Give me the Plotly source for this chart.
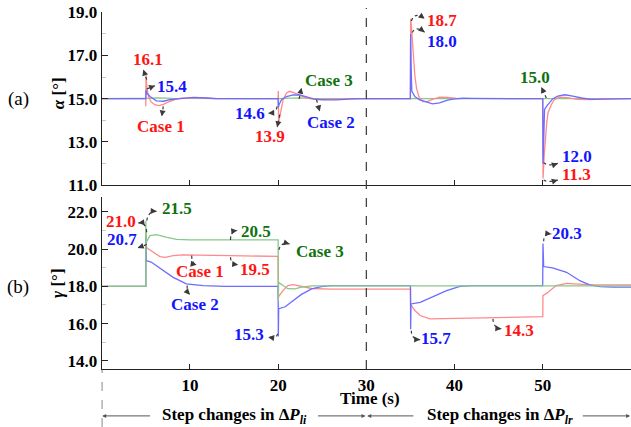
import math
import plotly.graph_objects as go

# ---------------- data: rotor angles after the step changes ----------------
# alpha (top panel)
t_alpha_case1 = [0, 4.99, 5.0, 5.02, 5.1, 5.3, 5.6, 6.0, 6.5, 7.0, 7.5, 8.0, 8.5, 9.0, 10, 11, 12, 13, 19.99,
                 20.0, 20.02, 20.05, 20.27, 20.57, 20.95, 21.3, 21.9, 22.5, 23.2, 24.4, 26, 28, 34.99,
                 35.0, 35.02, 35.1, 35.2, 35.3, 35.5, 35.7, 36.0, 36.4, 36.9, 37.5, 38.3, 39.2, 40.2, 49.99,
                 50.0, 50.03, 50.15, 50.3, 50.45, 50.6, 51.0, 51.3, 51.9, 52.8, 53.9, 55.5, 57, 60]
alpha_case1 = [15, 15, 14.65, 16.1, 15.6, 15.1, 14.85, 14.72, 14.68, 14.74, 14.84, 14.93, 14.99, 15.02, 15.04, 15.04, 15.02, 15.0, 15.0,
               15.0, 15.35, 13.9, 14.34, 14.95, 15.26, 15.34, 15.26, 15.14, 15.03, 14.96, 14.96, 14.99, 15.0,
               15.0, 18.7, 18.4, 17.8, 17.0, 16.05, 15.45, 15.05, 14.86, 14.86, 14.97, 15.07, 15.06, 15.01, 15.0,
               15.0, 11.3, 12.3, 13.3, 13.9, 14.35, 14.75, 14.95, 15.07, 15.05, 14.97, 14.96, 15.0, 15.0]

t_alpha_case2 = [0, 4.99, 5.0, 5.02, 5.1, 5.47, 6.2, 7.0, 7.7, 8.9, 10.4, 11.9, 13, 19.99,
                 20.0, 20.02, 20.1, 20.38, 20.95, 21.7, 22.46, 23.2, 24.0, 25.1, 26.6, 28, 29, 34.99,
                 35.0, 35.02, 35.08, 35.15, 35.5, 36.0, 36.8, 37.5, 38.3, 39.2, 40, 41, 42, 49.99,
                 50.0, 50.03, 50.1, 50.2, 50.5, 50.8, 51.15, 51.7, 52.5, 53.4, 54.4, 55.5, 57, 60]
alpha_case2 = [15, 15, 15.0, 15.4, 15.26, 15.1, 14.9, 14.88, 14.95, 15.0, 15.06, 15.03, 15.0, 15.0,
               15.0, 14.6, 14.72, 14.95, 15.1, 15.17, 15.17, 15.1, 14.99, 14.94, 14.94, 14.98, 15.0, 15.0,
               15.0, 18.0, 16.5, 15.35, 15.1, 14.95, 14.84, 14.76, 14.8, 14.93, 14.99, 15.02, 15.01, 15.0,
               15.0, 12.0, 13.5, 14.5, 14.69, 14.84, 15.0, 15.12, 15.18, 15.12, 15.03, 14.97, 14.99, 15.0]

t_alpha_case3 = [0, 5, 5.5, 6.5, 8, 20, 21, 22.5, 24, 35, 36.5, 38, 50, 51.5, 53, 60]
alpha_case3 = [15, 15, 15.02, 15.04, 15.01, 15.0, 15.02, 15.04, 15.0, 15.0, 15.01, 15.0, 15.0, 15.03, 15.0, 15.0]

# gamma (bottom panel)
t_gamma_case1 = [0, 4.99, 5.0, 5.05, 5.3, 5.85, 6.6, 7.2, 8.1, 9.2, 11, 14.5, 19.99,
                 20.0, 20.02, 20.05, 20.55, 21.1, 21.7, 22.65, 23.8, 26, 34.99,
                 35.0, 35.02, 35.1, 35.5, 36.1, 37.2, 39.5, 44.4, 49.99,
                 50.0, 50.02, 50.6, 51.5, 52.7, 55, 60]
gamma_case1 = [18, 18, 21.0, 20.09, 20.0, 19.82, 19.59, 19.55, 19.64, 19.68, 19.68, 19.65, 19.6,
               19.6, 17.3, 17.45, 17.77, 18.04, 18.09, 17.98, 17.88, 17.85, 17.85,
               17.85, 16.9, 16.96, 16.7, 16.43, 16.25, 16.27, 16.3, 16.37,
               16.37, 17.5, 17.68, 18.04, 18.16, 18.09, 18.07]

t_gamma_case2 = [0, 4.99, 5.0, 5.05, 5.6, 7.0, 8.1, 9.6, 11.5, 14, 19.99,
                 20.0, 20.02, 20.06, 20.8, 21.5, 22.6, 23.8, 24.9, 26, 34.99,
                 35.0, 35.02, 35.06, 36.1, 37.6, 39.1, 40.6, 42, 49.99,
                 50.0, 50.02, 50.1, 51.1, 52.7, 54.2, 55.3, 56.5, 58, 60]
gamma_case2 = [18, 18, 20.7, 19.38, 19.3, 18.84, 18.48, 18.13, 18.04, 18.0, 18.0,
               18.0, 15.3, 16.8, 16.9, 17.14, 17.55, 17.86, 17.98, 18.03, 18.03,
               18.03, 15.7, 17.05, 17.14, 17.45, 17.77, 18.0, 18.03, 18.03,
               18.03, 20.3, 19.06, 18.99, 18.75, 18.3, 18.07, 17.98, 17.95, 17.95]

t_gamma_case3 = [0, 4.99, 5.0, 5.05, 5.47, 6.2, 7.4, 8.5, 10, 19.99, 20.0, 20.02, 20.05, 20.55, 21.1, 21.9, 22.65, 23.8, 60]
gamma_case3 = [18, 18, 21.5, 20.36, 20.72, 20.77, 20.63, 20.52, 20.49, 20.49, 20.49, 17.2, 18.21, 18.04, 17.87, 17.86, 17.95, 18.02, 18.02]

alpha_ticks = [11, 13, 15, 17, 19]
gamma_ticks = [14, 16, 18, 20, 22]
time_ticks = [10, 20, 30, 40, 50]

# ---------------- styling ----------------
SERIF = "Liberation Serif"
LINE = {"red": "#ff8a8a", "blue": "#6c6cff", "green": "#88c888"}
TEXT = {"red": "#ff1414", "blue": "#1414ff", "green": "#0f720f"}
ARROW = "#3a3a3a"
PX_PER_S = 8.83
PX_PER_UNIT = {"y": 21.5, "y2": 18.63}

fig = go.Figure()


def add_line(t, v, color, axis):
    fig.add_trace(go.Scatter(x=t, y=v, mode="lines", line=dict(color=LINE[color], width=1.3),
                             xaxis="x" if axis == "y" else "x2", yaxis=axis,
                             showlegend=False, hoverinfo="skip"))


add_line(t_alpha_case3, alpha_case3, "green", "y")
add_line(t_alpha_case1, alpha_case1, "red", "y")
add_line(t_alpha_case2, alpha_case2, "blue", "y")
add_line(t_gamma_case1, gamma_case1, "red", "y2")
add_line(t_gamma_case2, gamma_case2, "blue", "y2")
add_line(t_gamma_case3, gamma_case3, "green", "y2")

shapes = []
annotations = []


def label(text, x, y, color, axis):
    annotations.append(dict(text=text, x=x, y=y, xref="x" if axis == "y" else "x2", yref=axis,
                            showarrow=False, xanchor="center", yanchor="middle",
                            font=dict(family=SERIF, size=17, color=TEXT[color], weight="bold")))


def pointer(tail, tip, axis, ctrl=None):
    xr = "x" if axis == "y" else "x2"
    if ctrl is None:
        ctrl = ((tail[0] + tip[0]) / 2, (tail[1] + tip[1]) / 2)
    shapes.append(dict(type="path", xref=xr, yref=axis,
                       path=f"M {tail[0]},{tail[1]} Q {ctrl[0]},{ctrl[1]} {tip[0]},{tip[1]}",
                       line=dict(color=ARROW, width=1.2, dash="dot")))
    dx = (tip[0] - ctrl[0]) * PX_PER_S
    dy = -(tip[1] - ctrl[1]) * PX_PER_UNIT[axis]
    n = math.hypot(dx, dy) or 1.0
    annotations.append(dict(text="", x=tip[0], y=tip[1], xref=xr, yref=axis,
                            ax=-dx / n * 6, ay=-dy / n * 6, showarrow=True,
                            arrowhead=2, arrowsize=1, arrowwidth=1.2, arrowcolor=ARROW, standoff=0))


# top panel labels
label("16.1", 5.24, 16.81, "red", "y")
pointer((5.1, 15.88), (4.71, 16.35), "y")
label("15.4", 7.96, 15.54, "blue", "y")
pointer((5.1, 15.45), (6.04, 15.6), "y")
label("Case 1", 6.72, 13.71, "red", "y")
pointer((6.98, 14.64), (6.8, 14.18), "y")
label("14.6", 16.8, 14.29, "blue", "y")
pointer((19.89, 14.64), (18.87, 14.33), "y", (19.8, 14.35))
label("13.9", 19.06, 13.25, "red", "y")
pointer((20.19, 14.26), (19.89, 13.68), "y")
label("Case 3", 25.8, 15.84, "green", "y")
pointer((22.38, 14.99), (22.65, 15.5), "y")
label("Case 2", 25.97, 13.9, "blue", "y")
pointer((24.35, 14.95), (24.72, 14.41), "y")
label("18.7", 38.54, 18.64, "red", "y")
pointer((35.1, 18.6), (36.6, 18.7), "y", (35.5, 19.05))
label("18.0", 38.54, 17.67, "blue", "y")
pointer((35.2, 18.06), (36.6, 18.08), "y", (35.6, 18.4))
label("15.0", 49.15, 15.99, "green", "y")
pointer((50.4, 15.03), (49.83, 15.54), "y")
label("12.0", 53.83, 12.32, "blue", "y")
pointer((50.1, 12.04), (51.7, 12.0), "y", (50.6, 11.85))
label("11.3", 53.83, 11.47, "red", "y")
pointer((50.1, 11.23), (51.7, 11.23), "y", (50.6, 11.1))

# bottom panel labels
label("21.0", 2.19, 21.47, "red", "y2")
pointer((5.1, 20.9), (4.15, 21.4), "y2", (5.0, 21.45))
label("20.7", 2.33, 20.49, "blue", "y2")
pointer((5.1, 20.24), (4.08, 20.06), "y2")
label("21.5", 8.49, 22.15, "green", "y2")
pointer((5.1, 21.52), (6.23, 22.02), "y2", (5.3, 22.05))
label("20.5", 17.47, 20.95, "green", "y2")
pointer((14.6, 20.49), (15.36, 20.99), "y2", (14.6, 20.95))
label("19.5", 17.36, 18.9, "red", "y2")
pointer((14.6, 19.56), (15.47, 19.16), "y2", (14.6, 19.2))
label("Case 1", 11.13, 18.79, "red", "y2")
pointer((10.2, 19.65), (10.76, 19.16), "y2", (10.2, 19.2))
label("Case 2", 10.62, 17.02, "blue", "y2")
pointer((9.7, 18.04), (10.0, 17.55), "y2", (9.6, 17.75))
label("Case 3", 24.72, 19.88, "green", "y2")
pointer((20.08, 19.95), (21.3, 20.27), "y2", (20.3, 20.4))
label("15.3", 16.68, 15.41, "blue", "y2")
pointer((19.93, 15.45), (18.87, 15.27), "y2", (19.9, 15.2))
label("15.7", 37.94, 15.18, "blue", "y2")
pointer((35.1, 15.62), (36.1, 15.14), "y2", (35.1, 15.15))
label("14.3", 47.29, 15.62, "red", "y2")
pointer((44.35, 16.25), (45.3, 15.72), "y2", (44.4, 15.75))
label("20.3", 52.77, 20.81, "blue", "y2")
pointer((50.1, 20.41), (50.96, 20.81), "y2", (50.1, 20.85))

# dashed separators
shapes.append(dict(type="line", xref="x2", yref="paper", x0=30, x1=30, y0=0.136, y1=0.981,
                   line=dict(color="#444", width=1.3, dash="dash")))
shapes.append(dict(type="line", xref="x2", yref="paper", x0=0, x1=0, y0=0.0, y1=0.134,
                   line=dict(color="#444", width=1.3, dash="dash")))

# span arrows under the time axis
for tip, tail in [(0.05, 5.65), (29.9, 24.35), (30.1, 35.5), (59.9, 54.36)]:
    annotations.append(dict(text="", x=tip, y=0.026, xref="x2", yref="paper",
                            ax=tail, ay=0, axref="x2", ayref="pixel", showarrow=True,
                            arrowhead=2, arrowsize=0.8, arrowwidth=1, arrowcolor="#555", standoff=0))

bold17 = dict(family=SERIF, size=17, color="black", weight="bold")
annotations.append(dict(text="Step changes in Δ<i>P</i><sub><i>li</i></sub>", x=15.1, y=0.026, xref="x2",
                        yref="paper", showarrow=False, font=bold17, xanchor="center", yanchor="middle"))
annotations.append(dict(text="Step changes in Δ<i>P</i><sub><i>lr</i></sub>", x=45.2, y=0.026, xref="x2",
                        yref="paper", showarrow=False, font=bold17, xanchor="center", yanchor="middle"))
annotations.append(dict(text="Time (s)", x=30.4, y=0.066, xref="x2", yref="paper", showarrow=False,
                        font=bold17, xanchor="center", yanchor="middle"))
annotations.append(dict(text="<i>α</i> [°]", x=0.092, y=0.782, xref="paper", yref="paper", textangle=-90,
                        showarrow=False, font=bold17, xanchor="center", yanchor="middle"))
annotations.append(dict(text="<i>γ</i> [°]", x=0.090, y=0.337, xref="paper", yref="paper", textangle=-90,
                        showarrow=False, font=bold17, xanchor="center", yanchor="middle"))
annotations.append(dict(text="(a)", x=0.029, y=0.768, xref="paper", yref="paper", showarrow=False,
                        font=dict(family=SERIF, size=19, color="black"), xanchor="center", yanchor="middle"))
annotations.append(dict(text="(b)", x=0.029, y=0.329, xref="paper", yref="paper", showarrow=False,
                        font=dict(family=SERIF, size=19, color="black"), xanchor="center", yanchor="middle"))

xdom = [0.1612, 1.0]
common_x = dict(domain=xdom, range=[0, 60], showline=True, linecolor="#222", linewidth=1.3,
                ticks="inside", ticklen=5, tickcolor="#222", tickvals=time_ticks, automargin=False,
                showgrid=False, zeroline=False, tickfont=bold17)
common_y = dict(showline=True, linecolor="#222", linewidth=1.3, ticks="inside", ticklen=6, automargin=False,
                tickcolor="#222", showgrid=False, zeroline=False, tickfont=bold17, tickformat=".1f")

fig.update_layout(
    width=631, height=427, margin=dict(l=0, r=0, t=0, b=0, pad=0),
    paper_bgcolor="white", plot_bgcolor="white", showlegend=False,
    xaxis=dict(common_x, anchor="y", showticklabels=False),
    xaxis2=dict(common_x, anchor="y2", showticklabels=True),
    yaxis=dict(common_y, domain=[0.5667, 0.9712], range=[11, 19], anchor="x", tickvals=alpha_ticks,
               minor=dict(tickvals=[12, 14, 16, 18], ticks="inside", ticklen=4, tickcolor="#c8c8c8")),
    yaxis2=dict(common_y, domain=[0.1358, 0.5386], range=[13.56, 22.79], anchor="x2", tickvals=gamma_ticks,
                minor=dict(tickvals=[15, 17, 19, 21], ticks="inside", ticklen=4, tickcolor="#c8c8c8")),
    shapes=shapes, annotations=annotations,
)

fig.write_html("out.html")
